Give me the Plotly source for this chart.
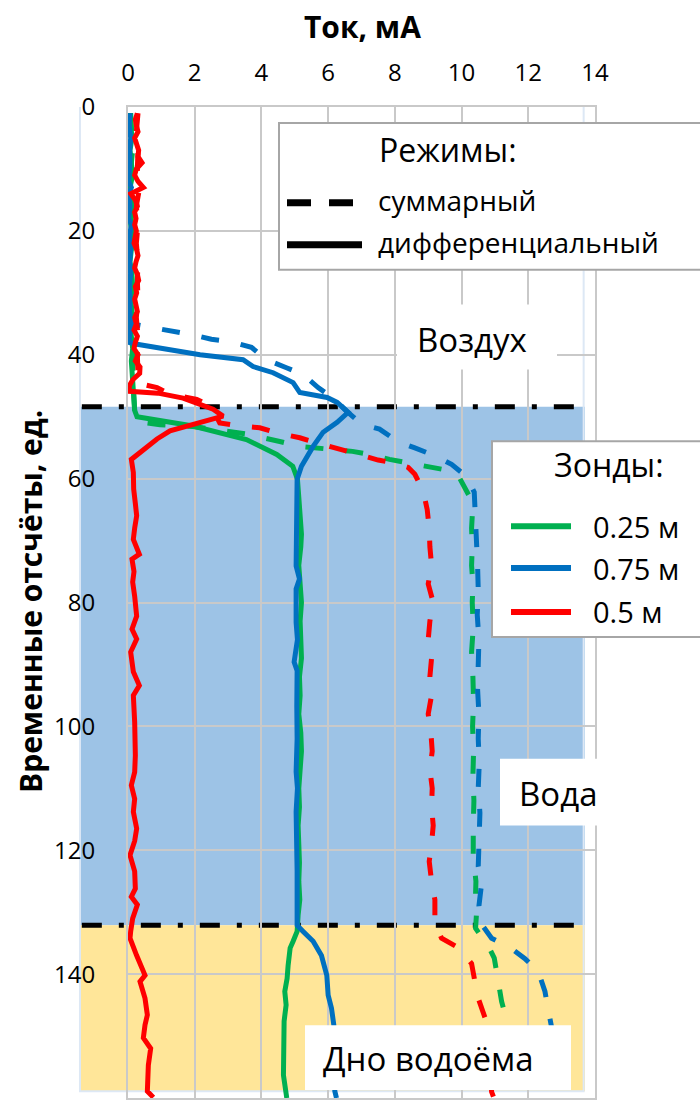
import plotly.graph_objects as go

# ---------------------------------------------------------------------------
# Probe currents (mA) against time sample index.
# "diff" = differential mode (solid), "sum" = summary mode (dashed)
# ---------------------------------------------------------------------------

# 0.25 m probe, differential
g_diff_t = [1, 3, 5, 7, 9, 11, 13, 15, 17, 19, 21, 23, 25, 27, 29, 31, 33, 35, 37, 39,
            41, 43, 45, 47, 49,
            50, 51.5, 53.7, 56.1, 58,
            60.1, 63, 66, 69, 71, 74, 77, 80, 83, 86,
            89, 92, 95, 98, 101, 104, 107, 110, 113, 116,
            119, 122, 125, 128, 130.5, 133.1, 134.7, 135.8, 138.6, 140.7,
            142.8, 145, 147.6, 152, 156.3, 160]
g_diff_i = [0.05, 0.08, 0.12, 0.06, 0.10, 0.14, 0.06, 0.10, 0.12, 0.08, 0.15, 0.10, 0.06,
            0.12, 0.14, 0.08, 0.12, 0.06, 0.10, 0.14, 0.10, 0.12, 0.16, 0.15, 0.20,
            0.27, 1.95, 3.55, 4.46, 4.94,
            5.08, 5.12, 5.15, 5.20, 5.18, 5.12, 5.16, 5.20, 5.16, 5.18,
            5.20, 5.14, 5.16, 5.12, 5.18, 5.20, 5.15, 5.12, 5.14, 5.10,
            5.12, 5.14, 5.12, 5.15, 5.10, 5.07, 4.95, 4.86, 4.80, 4.77,
            4.70, 4.74, 4.68, 4.66, 4.66, 4.76]

# 0.75 m probe, differential
b_diff_t = [1, 3, 5, 7, 9, 11, 12, 13, 14, 16, 18, 19, 21, 23, 25, 27, 29, 31, 33, 35,
            37, 38,
            38.3, 39.2, 40, 40.8, 41.9, 42.9, 44.5, 46.1, 46.9, 47.7, 49.3, 50.9, 52.5,
            54.8, 58,
            60.1, 64.4, 69.8, 74.1, 76.2, 77.8, 83.2, 86, 89.6, 91,
            96.7, 102, 107.3, 110, 113.8, 118.1, 123.4, 128.9, 131.5, 132.1,
            133.1, 134.7, 137, 140.2, 143.4, 145.5, 148.2, 152, 156, 158.9, 160]
b_diff_i = [0.05, 0.04, 0.08, 0.05, 0.06, 0.04, 0.02, 0.10, 0.02, 0.06, 0.02, 0.10, 0.04,
            0.08, 0.05, 0.08, 0.04, 0.06, 0.05, 0.08, 0.04, 0.03,
            0.27, 1.17, 2.16, 3.45, 3.75, 4.35, 4.95, 5.15, 5.97, 6.27, 6.60, 6.27, 5.85,
            5.55, 5.20,
            5.07, 5.06, 5.07, 5.04, 5.14, 5.04, 5.04, 5.08, 4.98, 5.07,
            5.06, 5.07, 5.04, 5.08, 5.04, 5.06, 5.07, 5.07, 5.09, 5.07,
            5.25, 5.55, 5.80, 5.96, 6.00, 6.10, 6.17, 6.20, 6.20, 6.20, 6.25]

# 0.5 m probe, differential
r_diff_t = [1, 2, 3, 4, 5, 6, 7, 8, 9, 10, 11, 12, 13, 14, 15, 16, 17, 18, 19, 20,
            21, 22, 23, 24, 25, 26, 27, 28, 29, 30, 31, 32, 33, 34, 35, 36, 37, 38, 39, 40,
            41, 42, 43, 44, 45,
            45.9, 46.2, 47.0, 48.8, 49.9, 51.2, 52.3, 53.6, 55.3, 56.9,
            59, 61.7, 64, 66, 68, 69.8, 72.2, 73, 75, 76.7,
            79, 82.2, 84.3, 85.9, 88, 91.2, 93.4, 95, 99.3, 102,
            104.7, 107.4, 109.5, 111.7, 113.8, 116.5, 118.5, 120.8, 123.4, 126.2,
            127.5, 128.8, 131, 133.1, 134.2, 137, 140.2, 141.2, 143.9, 146.6,
            148.2, 150.3, 152, 154.7, 157.3, 158.9, 159.9]
r_diff_i = [0.28, 0.22, 0.25, 0.30, 0.20, 0.26, 0.32, 0.30, 0.42, 0.25,
            0.20, 0.30, 0.46, 0.08, 0.22, 0.28, 0.20, 0.24, 0.20, 0.25,
            0.22, 0.18, 0.26, 0.30, 0.24, 0.20, 0.28, 0.32, 0.22, 0.26,
            0.20, 0.24, 0.28, 0.20, 0.25, 0.18, 0.28, 0.22, 0.18, 0.30,
            0.22, 0.36, 0.35, 0.15, 0.04,
            0.04, 0.90, 1.65, 2.55, 2.85, 1.95, 1.26, 0.87, 0.45, 0.10,
            0.16, 0.17, 0.22, 0.26, 0.20, 0.16, 0.34, 0.12, 0.18, 0.14,
            0.20, 0.26, 0.12, 0.26, 0.08, 0.16, 0.34, 0.16, 0.20, 0.22,
            0.22, 0.20, 0.10, 0.20, 0.16, 0.26, 0.20, 0.06, 0.20, 0.22,
            0.10, 0.28, 0.14, 0.08, 0.06, 0.26, 0.51, 0.36, 0.51, 0.58,
            0.51, 0.46, 0.68, 0.61, 0.58, 0.58, 0.76]

# 0.25 m probe, summary
g_sum_t = [1, 4, 7, 10, 13, 16, 19, 22, 25, 28, 31, 34, 37, 40, 43, 46, 49,
           50.8, 51.3, 51.6, 52.5, 52.8, 54, 54.8, 55.6, 56.1, 56.9, 57.7, 58.3, 58.8,
           59.8, 61.7,
           63, 65, 68, 71, 74, 77, 80, 84, 88, 92,
           96, 100, 104, 108, 112, 116, 120.8, 125, 127, 130,
           132.6, 134, 135.8, 137.4, 140, 142.8, 144.4, 146, 149.2, 153, 156, 159, 160]
g_sum_i = [0.08, 0.10, 0.14, 0.08, 0.12, 0.10, 0.14, 0.08, 0.12, 0.10, 0.14, 0.10, 0.12,
           0.16, 0.14, 0.18, 0.20,
           0.27, 0.96, 1.95, 3.05, 3.55, 4.55, 5.15, 6.73, 7.24, 7.84, 8.65, 9.33, 9.72,
           9.93, 10.14,
           10.25, 10.33, 10.30, 10.32, 10.30, 10.34, 10.32, 10.35, 10.30, 10.34,
           10.36, 10.33, 10.36, 10.34, 10.37, 10.35, 10.35, 10.43, 10.42, 10.45,
           10.42, 10.60, 10.83, 10.98, 11.05, 11.13, 11.20, 11.28, 11.33, 11.38, 11.40,
           11.45, 11.50]

# 0.75 m probe, summary
b_sum_t = [1, 4, 7, 10, 13, 16, 19, 22, 25, 28, 31, 34,
           35.2, 35.6, 36.1, 36.8, 37.5, 37.9, 38.8, 40.8, 42.1, 43.2, 45.3, 47.2, 49.1,
           50.2, 51.2, 52, 54, 55, 56.4, 57.7, 59.6, 62.2,
           66, 70, 74, 78, 82, 86, 90, 94, 98, 102,
           106, 110, 114, 118, 122.6, 125.4, 129, 131.8,
           133.2, 134.2, 135.5, 137.5, 139.6, 142.8, 145.8, 150, 155, 160]
b_sum_i = [0.06, 0.05, 0.08, 0.04, 0.06, 0.08, 0.05, 0.07, 0.05, 0.08, 0.05, 0.06,
           0.30, 0.75, 1.35, 1.95, 2.50, 3.10, 3.70, 4.15, 4.75, 5.25, 5.70, 6.20, 6.55,
           6.80, 7.00, 7.54, 8.08, 8.58, 9.24, 9.70, 10.14, 10.38,
           10.42, 10.45, 10.48, 10.50, 10.47, 10.52, 10.50, 10.48, 10.52, 10.50,
           10.53, 10.50, 10.55, 10.52, 10.50, 10.60, 10.52, 10.58,
           10.75, 10.90, 11.40, 11.90, 12.30, 12.50, 12.60, 12.75, 12.85, 12.90]

# 0.5 m probe, summary
r_sum_t = [1, 4, 7, 10, 13, 16, 19, 22, 25, 28, 31, 34, 37, 40, 43, 44.6,
           45.3, 46.4, 47.2, 48.5, 50.5, 51, 51.5, 51.8, 52.6, 53.4, 54.2, 55.3, 56, 57,
           57.5, 58.2, 59.3,
           62, 65, 68, 71, 74, 77, 80, 83, 86, 89,
           92, 95, 98, 101, 104, 107, 110, 113, 116, 119,
           121.8, 125, 128, 131.8, 134.2, 135.8, 138.3, 141.2, 143.9, 147, 148.7, 153,
           156, 159, 160]
r_sum_i = [0.30, 0.25, 0.30, 0.28, 0.35, 0.25, 0.30, 0.25, 0.30, 0.28, 0.30, 0.25, 0.30,
           0.28, 0.30, 0.30,
           0.87, 1.26, 2.06, 2.55, 2.70, 2.75, 3.35, 3.95, 4.46, 5.15, 5.65, 6.34, 6.85,
           7.50, 8.00, 8.40, 8.60,
           8.85, 8.97, 9.03, 9.05, 9.10, 9.00, 9.15, 9.05, 9.00, 9.10,
           9.05, 9.10, 9.00, 9.08, 9.12, 9.05, 9.12, 9.10, 9.15, 9.10,
           9.03, 9.10, 9.20, 9.20, 9.40, 9.93, 10.30, 10.40, 10.50, 10.70, 10.75, 10.85,
           10.88, 10.90, 10.97]

# Medium boundaries (sample index) and the horizontal extent of the zones (mA)
air_water_t = 48.4
water_bottom_t = 132.1
bottom_end_t = 158.9
frame_top_t = -1.1
zone_x0, zone_x1, marker_x1, frame_x1 = -1.44, 13.7, 13.8, 13.66

x_ticks = [0, 2, 4, 6, 8, 10, 12, 14]
y_ticks = [0, 20, 40, 60, 80, 100, 120, 140, 160]

GREEN, BLUE, RED = "#00B050", "#0070C0", "#FF0000"
FONT = "Open Sans"

# ---------------------------------------------------------------------------
W, H = 700, 1109
ML, MR, MT, MB = 128, 105, 107, 9
X_MAX, Y_MAX = 14, 160


def xp(v):
    """mA value -> paper x"""
    return v / X_MAX


def pxx(p):
    """pixel column -> paper x"""
    return (p - ML) / (W - ML - MR)


def pxy(p):
    """pixel row -> paper y"""
    return (H - MB - p) / (H - MT - MB)


fig = go.Figure()

series = [
    (g_sum_t, g_sum_i, GREEN, "18px,22px"),
    (b_sum_t, b_sum_i, BLUE, "18px,22px"),
    (r_sum_t, r_sum_i, RED, "18px,22px"),
    (g_diff_t, g_diff_i, GREEN, "solid"),
    (b_diff_t, b_diff_i, BLUE, "solid"),
    (r_diff_t, r_diff_i, RED, "solid"),
]
for t, i, col, dash in series:
    fig.add_trace(go.Scatter(x=i, y=t, mode="lines", showlegend=False,
                             line=dict(color=col, width=5, dash=dash),
                             hoverinfo="skip"))

shapes = []
# zones: water and bottom
shapes.append(dict(type="rect", xref="paper", yref="y", x0=xp(zone_x0), x1=xp(zone_x1),
                   y0=air_water_t, y1=water_bottom_t, fillcolor="#9DC3E6",
                   line=dict(width=0), layer="below"))
shapes.append(dict(type="rect", xref="paper", yref="y", x0=xp(zone_x0), x1=xp(zone_x1),
                   y0=water_bottom_t, y1=bottom_end_t, fillcolor="#FFE699",
                   line=dict(width=0), layer="below"))
# outer light frame
shapes.append(dict(type="rect", xref="paper", yref="y", x0=xp(zone_x0), x1=xp(frame_x1),
                   y0=frame_top_t, y1=bottom_end_t, fillcolor="rgba(0,0,0,0)",
                   line=dict(color="#DDE8F5", width=2), layer="below"))
# boundary markers
for yb in (air_water_t, water_bottom_t):
    shapes.append(dict(type="line", xref="paper", yref="y", x0=xp(zone_x0) + 0.004,
                       x1=xp(marker_x1), y0=yb, y1=yb,
                       line=dict(color="black", width=5, dash="20px,17px,5px,17px"),
                       layer="below"))


def white_box(x0, y0, x1, y1, border=None):
    return dict(type="rect", xref="paper", yref="paper",
                x0=pxx(x0), x1=pxx(x1), y0=pxy(y1), y1=pxy(y0),
                fillcolor="white", layer="above",
                line=dict(color=border or "white", width=2 if border else 0))


# zone labels
shapes.append(white_box(397, 305, 557, 370))
shapes.append(white_box(500, 760, 598, 827))
shapes.append(white_box(305, 1027, 571, 1092))

# legend: modes
shapes.append(white_box(279, 123, 712, 270, border="#A6A6A6"))
shapes.append(dict(type="line", xref="paper", yref="paper", x0=pxx(287), x1=pxx(362),
                   y0=pxy(203), y1=pxy(203), layer="above",
                   line=dict(color="black", width=7, dash="24px,18px")))
shapes.append(dict(type="line", xref="paper", yref="paper", x0=pxx(287), x1=pxx(362),
                   y0=pxy(245), y1=pxy(245), layer="above",
                   line=dict(color="black", width=7)))

# legend: probes
shapes.append(white_box(492, 442, 712, 638, border="#A6A6A6"))
for yy, col in ((527, GREEN), (569, BLUE), (613, RED)):
    shapes.append(dict(type="line", xref="paper", yref="paper", x0=pxx(511), x1=pxx(571),
                       y0=pxy(yy), y1=pxy(yy), layer="above",
                       line=dict(color=col, width=6)))

annotations = []


def label(text, x, y, size, xanchor="center", angle=0):
    annotations.append(dict(text=text, xref="paper", yref="paper", x=pxx(x), y=pxy(y),
                            xanchor=xanchor, yanchor="middle", showarrow=False,
                            textangle=angle,
                            font=dict(family=FONT, size=size, color="black")))


label("<b>Ток, мА</b>", 362, 26, 30)
label("<b>Временные отсчёты, ед.</b>", 30, 603, 30, angle=-90)
label("Воздух", 472, 340, 33)
label("Вода", 558, 795, 33)
label("Дно водоёма", 428, 1060, 33)
label("Режимы:", 448, 150, 32)
label("суммарный", 376, 200, 28, xanchor="left")
label("дифференциальный", 376, 242, 28, xanchor="left")
label("Зонды:", 609, 465, 32)
label("0.25 м", 591, 527, 29, xanchor="left")
label("0.75 м", 591, 569, 29, xanchor="left")
label("0.5 м", 591, 613, 29, xanchor="left")

grid = "#C9C9C9"
fig.update_layout(
    width=W, height=H,
    margin=dict(l=ML, r=MR, t=MT, b=MB),
    paper_bgcolor="white", plot_bgcolor="rgba(0,0,0,0)",
    shapes=shapes, annotations=annotations,
    font=dict(family=FONT, color="black"),
    xaxis=dict(side="top", range=[0, X_MAX], tickvals=x_ticks,
               ticktext=[str(v) for v in x_ticks], showgrid=True, gridcolor=grid,
               gridwidth=2, zeroline=False, showline=True, linecolor=grid,
               linewidth=2, mirror=True, ticks="", ticklabelstandoff=14,
               tickfont=dict(size=24, family=FONT, color="black")),
    yaxis=dict(range=[Y_MAX, 0], tickvals=y_ticks,
               ticktext=[str(v) for v in y_ticks], showgrid=True, gridcolor=grid,
               gridwidth=2, zeroline=False, showline=True, linecolor=grid,
               linewidth=2, mirror=True, ticks="", ticklabelstandoff=26,
               tickfont=dict(size=24, family=FONT, color="black")),
)

fig.write_html("out.html")
